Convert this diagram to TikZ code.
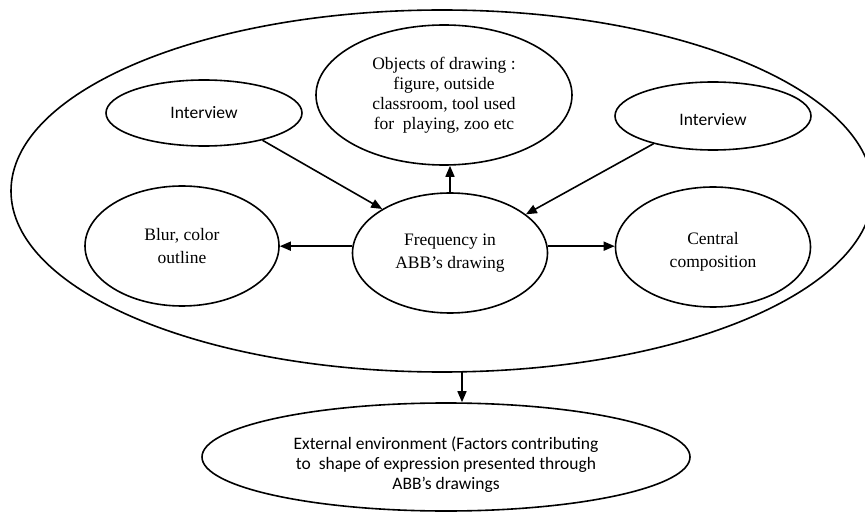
\documentclass[tikz,border=0pt]{standalone}
\usepackage{fontspec}
\setmainfont{Liberation Serif}
\newfontfamily\calib{Carlito}
\usetikzlibrary{shapes.geometric,arrows.meta}
\begin{document}
\begin{tikzpicture}[x=1pt,y=-1pt,
  oval/.style={draw,ellipse,line width=1.6pt,inner sep=0pt,align=center},
  serift/.style={font=\fontsize{17.5}{23}\selectfont},
  sanst/.style={font=\calib\fontsize{17.5}{20}\selectfont},
  txt/.style={align=center,inner sep=0pt},
  arr/.style={line width=1.6pt,-{Triangle[length=11pt,width=9pt]}}]
\useasboundingbox (0,0) rectangle (865,513);
\node[oval,minimum width=862,minimum height=362] (big) at (442,191) {};
\node[oval,serift,font=\fontsize{17.5}{20}\selectfont,minimum width=256,minimum height=140] (obj) at (444,95)
  {Objects of drawing :\\figure, outside\\classroom, tool used\\for\ \ playing, zoo etc};
\node[oval,sanst,minimum width=196,minimum height=66] (iL) at (204,113) {Interview};
\node[oval,minimum width=196,minimum height=68] (iR) at (713,116) {};
\node[txt,sanst] (iRt) at ([yshift=-4pt]iR.center) {Interview};
\node[oval,serift,minimum width=194,minimum height=120] (blur) at (182,246) {Blur, color\\outline};
\node[oval,serift,minimum width=195,minimum height=120] (freq) at (450,253) {Frequency in\\ABB’s drawing};
\node[oval,minimum width=195,minimum height=120] (cen) at (713,247) {};
\node[txt,serift] (cent) at ([yshift=-5pt]cen.center) {Central\\composition};
\node[oval,minimum width=488,minimum height=108] (ext) at (446,457) {};
\node[txt,sanst] (extt) at ([yshift=-8pt]ext.center)
  {External environment (Factors contributing\\to\ \ shape of expression presented through\\ABB’s drawings};
\draw[arr] (freq.north) -- (freq.north |- obj.south);
\draw[arr] (iL.-25) -- (freq.147);
\draw[arr] (iR.-155) -- (freq.27);
\draw[arr] (freq.176) -- (freq.176 -| blur.east);
\draw[arr] (freq.4) -- (freq.4 -| cen.west);
\coordinate (bb) at (462,372);
\draw[arr] (bb) -- (bb |- ext.north);
\end{tikzpicture}
\end{document}
